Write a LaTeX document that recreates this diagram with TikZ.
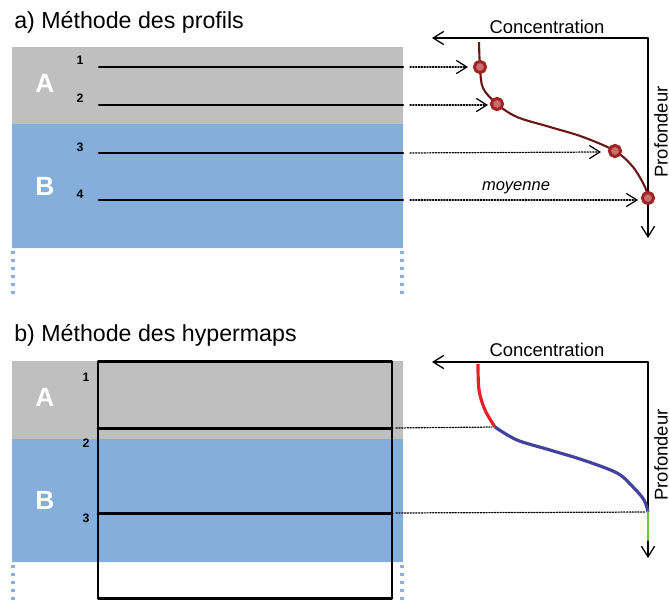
\documentclass[tikz,border=0pt]{standalone}
\usepackage{fontspec}
\setmainfont{Liberation Sans}
\usepackage{tkz-euclide}
\usetikzlibrary{arrows.meta}

\definecolor{layerA}{RGB}{191,191,191}
\definecolor{layerB}{RGB}{134,174,220}
\definecolor{layerEdge}{RGB}{140,175,225}
\definecolor{profil}{RGB}{105,22,22}
\definecolor{mark}{RGB}{160,36,36}
\definecolor{markfill}{RGB}{200,110,110}
\definecolor{hypA}{RGB}{232,30,36}
\definecolor{hypB}{RGB}{66,66,158}
\definecolor{hypC}{RGB}{110,200,60}

\tikzset{
  title/.style={anchor=base west,inner sep=0pt,font=\fontsize{13.2}{15}\selectfont},
  layerlab/.style={white,inner sep=0pt,font=\fontsize{15}{17}\bfseries\selectfont},
  num/.style={inner sep=0pt,font=\fontsize{7}{8}\bfseries\selectfont},
  axislab/.style={inner sep=0pt,font=\fontsize{10.5}{12}\selectfont},
  note/.style={inner sep=0pt,font=\fontsize{9.4}{11}\itshape\selectfont},
  edge/.style={draw=layerEdge,line width=1.8pt,dash pattern=on 1.8pt off 2.7pt},
  profline/.style={black,line width=1.2pt},
  boxline/.style={black,line width=1.7pt},
  chev/.style={-{Straight Barb[length=6pt,width=7.5pt]}},
  axis/.style={black,line width=0.75pt,chev},
  dotline/.style={black,line width=0.7pt,dash pattern=on 0.7pt off 0.9pt},
  dotarrow/.style={dotline,chev,shorten <=4pt},
  marker/.style={circle,draw=mark,fill=markfill,line width=1.7pt,
    inner sep=0pt,minimum size=6.4pt}
}

\begin{document}
\begin{tikzpicture}[x=0.02cm,y=-0.02cm]
  \useasboundingbox (0,0) rectangle (669,602);

  \node[title] (titA) at (14,28) {a) Méthode des profils};

  \tkzDefPoints{12/47/pA1,403/47/pA2,403/124/pA3,12/124/pA4,403/248/pB3,12/248/pB4}
  \tkzFillPolygon[color=layerA](pA1,pA2,pA3,pA4)
  \tkzFillPolygon[color=layerB](pA4,pA3,pB3,pB4)
  \tkzDefPoints{13/251/eL1,13/298/eL2,402/251/eR1,402/298/eR2}
  \draw[edge] (eL1) -- (eL2);
  \draw[edge] (eR1) -- (eR2);
  \node[layerlab] (labA) at (45,83) {A};
  \node[layerlab] (labB) at (45,186) {B};

  \tkzDefPoints{99/67/s1,403/67/t1,99/105/s2,403/105/t2,99/153/s3,403/153/t3,99/200/s4,403/200/t4}
  \tkzDrawSegments[profline](s1,t1 s2,t2 s3,t3 s4,t4)
  \node[num] (n1) at (80,60) {1};
  \node[num] (n2) at (80,98) {2};
  \node[num] (n3) at (80,147) {3};
  \node[num] (n4) at (80,194) {4};

  \tkzDefPoints{648/38/o1,432/38/x1,648/238/y1}
  \tkzDrawSegments[axis](o1,x1 o1,y1)
  \node[axislab] (conc) at (547,27) {Concentration};
  \node[axislab,rotate=90] (prof) at (661,132) {Profondeur};

  \tkzDefPoints{480/67/m1,497/104/m2,615/151/m3,648/198/m4}
  \draw[profil,line width=1.2pt] plot[smooth,tension=0.55] coordinates
    {(479,42) (m1) (483,88) (m2) (517,117) (550,127) (583,137) (m3) (633,167) (645,187) (m4)};

  \tkzDefPoints{468/67/f1,488/105/f2,601/152/f3,638/200/f4}
  \tkzDrawSegments[dotarrow](t1,f1 t2,f2 t3,f3 t4,f4)
  \node[note] (moy) at (516,188) {moyenne};

  \node[marker] (c1) at (m1) {};
  \node[marker] (c2) at (m2) {};
  \node[marker] (c3) at (m3) {};
  \node[marker] (c4) at (m4) {};

  \node[title] (titB) at (14,341) {b) Méthode des hypermaps};

  \tkzDefPoints{12/361/qA1,403/361/qA2,403/439/qA3,12/439/qA4,403/562/qB3,12/562/qB4}
  \tkzFillPolygon[color=layerA](qA1,qA2,qA3,qA4)
  \tkzFillPolygon[color=layerB](qA4,qA3,qB3,qB4)
  \tkzDefPoints{13/565/gL1,13/600/gL2,402/565/gR1,402/600/gR2}
  \draw[edge] (gL1) -- (gL2);
  \draw[edge] (gR1) -- (gR2);
  \node[layerlab] (labA2) at (45,397) {A};
  \node[layerlab] (labB2) at (45,500) {B};

  \tkzDefPoints{98/361/h1,392/361/h2,392/598/h3,98/598/h4,98/428/u1,392/428/v1,98/513/u2,392/513/v2}
  \tkzDrawPolygon[boxline](h1,h2,h3,h4)
  \tkzDrawSegments[boxline](u1,v1 u2,v2)
  \node[num] (k1) at (86,377) {1};
  \node[num] (k2) at (86,443) {2};
  \node[num] (k3) at (86,518) {3};

  \tkzDefPoints{648/362/o2,432/362/x2,648/558/y2}
  \tkzDrawSegments[axis](o2,x2 o2,y2)
  \node[axislab] (conc2) at (547,350) {Concentration};
  \node[axislab,rotate=90] (prof2) at (661,455) {Profondeur};

  \tkzDefPoints{478/364/w0,495/427/w1,648/512/w2,648/540/w3}
  \draw[hypA,line width=1.8pt] plot[smooth,tension=0.55] coordinates
    {(w0) (479,390) (485,410) (w1)};
  \draw[hypB,line width=1.8pt] plot[smooth,tension=0.55] coordinates
    {(w1) (517,440) (550,450) (583,460) (617,473) (633,487) (644,500) (w2)};
  \tkzDrawSegments[hypC,line width=1.6pt](w2,w3)
  \tkzDrawSegments[dotline,shorten <=2.3pt,shorten >=1.7pt](v1,w1 v2,w2)
\end{tikzpicture}
\end{document}
